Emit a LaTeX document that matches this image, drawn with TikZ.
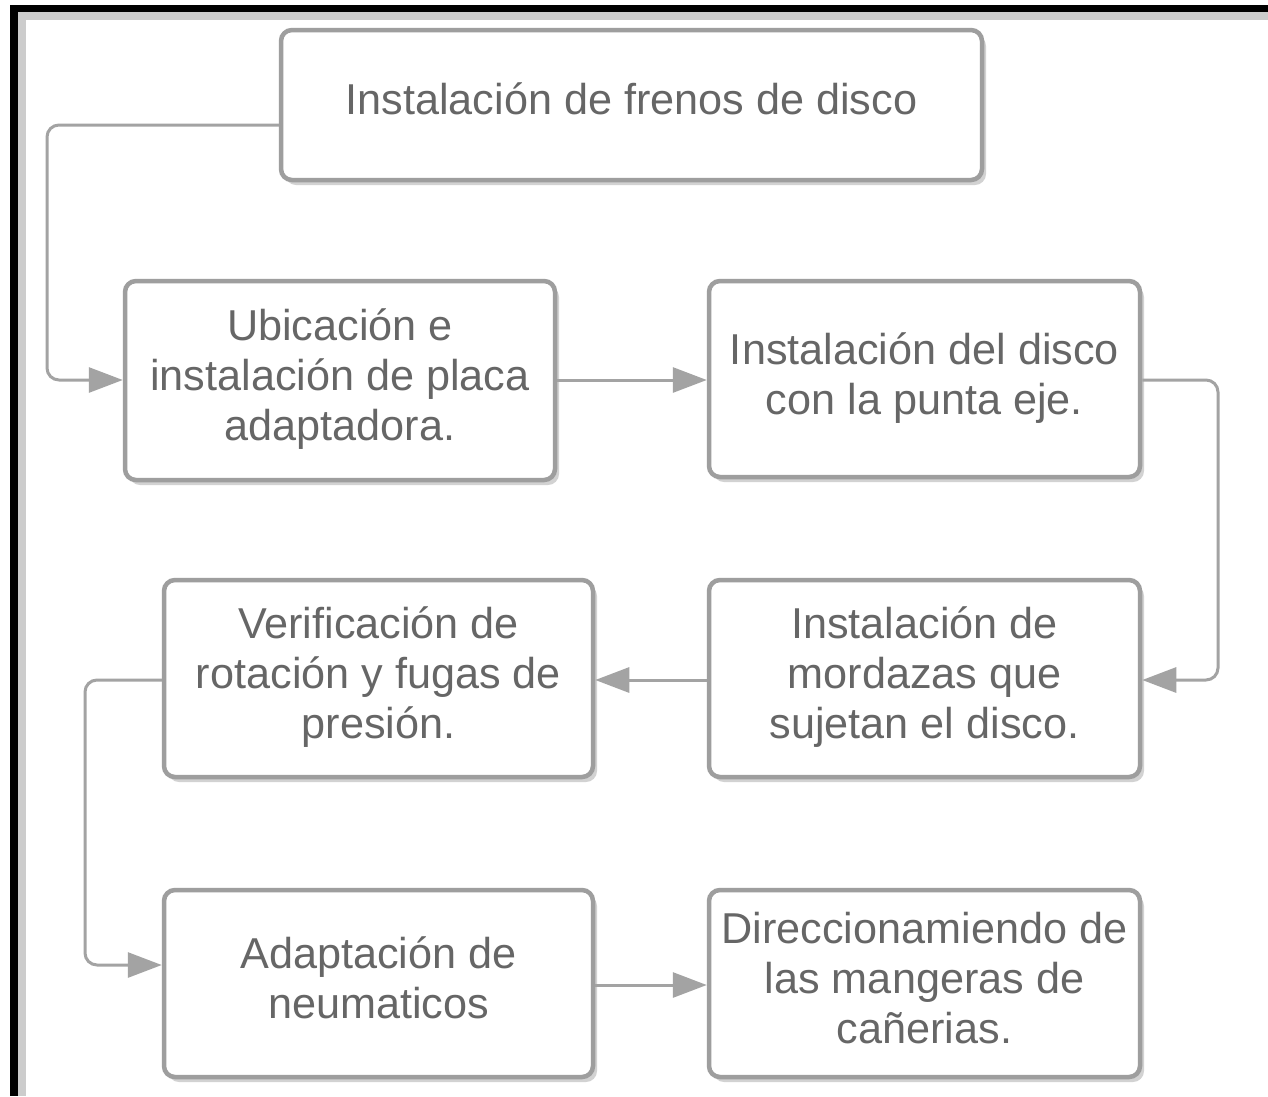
\documentclass[tikz,border=0pt]{standalone}
\usepackage{fontspec}
\setmainfont{Liberation Sans}
\usetikzlibrary{arrows.meta,shadows,calc}
\definecolor{boxline}{HTML}{9E9E9E}
\definecolor{txt}{HTML}{666666}
\definecolor{arr}{HTML}{A3A3A3}
\newcommand{\lns}[2][4pt]{\raisebox{#1}{\begin{tabular}{@{}c@{}}#2\end{tabular}}}
\tikzset{
  x=1pt,y=-1pt,
  stepbox/.style={draw=boxline, line width=4.5pt, rounded corners=11pt, fill=white,
    align=center, text=txt, inner sep=2pt,
    font=\fontsize{43.2}{50}\selectfont,
    drop shadow={opacity=0.35, shadow xshift=4pt, shadow yshift=-5pt}},
  conn/.style={draw=arr, line width=3pt, rounded corners=12pt,
    -{Triangle[length=34pt,width=25pt]}},
}
\begin{document}
\begin{tikzpicture}
\useasboundingbox (0,0) rectangle (1268,1096);
% frame
\fill[white] (0,0) rectangle (1268,1096);
\fill[black!20] (18,12) rectangle (1268,20);
\fill[black!20] (18,12) rectangle (26,1096);
\fill[black] (10,5) rectangle (1268,12);
\fill[black] (10,5) rectangle (18,1096);
% boxes
\node[stepbox, minimum width=701pt, minimum height=150pt] (top) at (631.5,105) {\raisebox{13pt}{Instalación de frenos de disco}};
\node[stepbox, minimum width=430pt, minimum height=199pt] (ubic) at (340,380.5) {\lns[7pt]{Ubicación e\\instalación de placa\\adaptadora.}};
\node[stepbox, minimum width=431pt, minimum height=196pt] (disco) at (924.5,379) {\lns[6pt]{Instalación del disco\\con la punta eje.}};
\node[stepbox, minimum width=429pt, minimum height=197pt] (verif) at (378.5,678.5) {\lns[3pt]{Verificación de\\rotación y fugas de\\presión.}};
\node[stepbox, minimum width=431pt, minimum height=197pt] (mord) at (924.5,678.5) {\lns[3pt]{Instalación de\\mordazas que\\sujetan el disco.}};
\node[stepbox, minimum width=429pt, minimum height=187pt] (adap) at (378.5,983.5) {\lns[4pt]{Adaptación de\\neumaticos}};
\node[stepbox, minimum width=431pt, minimum height=187pt] (direc) at (924.5,983.5) {\lns[4pt]{Direccionamiendo de\\las mangeras de\\cañerias.}};
% connectors
\draw[conn] (top.west |- 0,125) -- (47,125) -- (47,380) -- (ubic.west |- 0,380);
\draw[conn] (ubic.east |- 0,380) -- (disco.west |- 0,380);
\draw[conn] (disco.east |- 0,380) -- (1218,380) -- (1218,680) -- (mord.east |- 0,680);
\draw[conn] (mord.west |- 0,680) -- (verif.east |- 0,680);
\draw[conn] (verif.west |- 0,680) -- (85,680) -- (85,965) -- (adap.west |- 0,965);
\draw[conn] (adap.east |- 0,985) -- (direc.west |- 0,985);
\end{tikzpicture}
\end{document}
